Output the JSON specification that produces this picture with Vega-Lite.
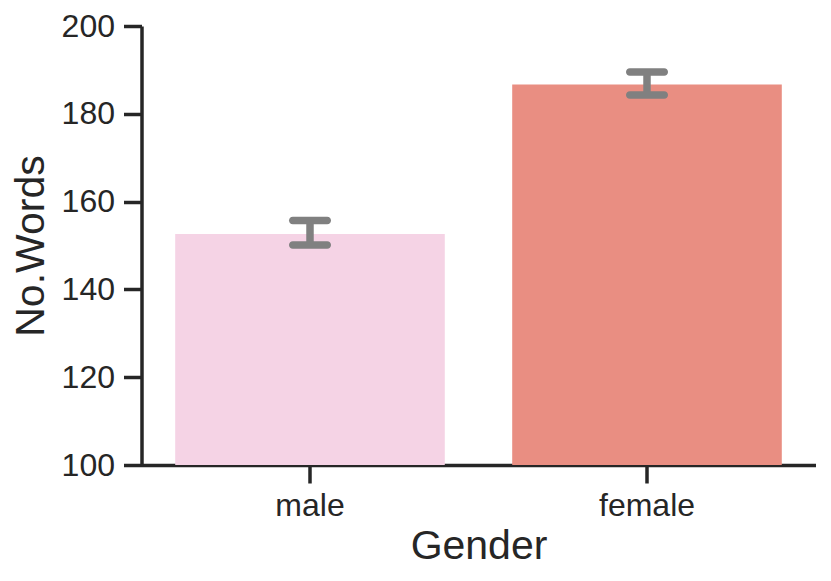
{
  "$schema": "https://vega.github.io/schema/vega-lite/v6.json",
  "autosize": {"type": "none"},
  "padding": {"left": 141.5, "top": 26, "right": 15.5, "bottom": 116},
  "width": 674,
  "height": 439,
  "background": "white",
  "data": {
    "values": [
      {"Gender": "male", "words": 152.6, "lo": 150.1, "hi": 155.7},
      {"Gender": "female", "words": 186.7, "lo": 184.3, "hi": 189.5}
    ]
  },
  "encoding": {
    "x": {
      "field": "Gender",
      "type": "nominal",
      "sort": ["male", "female"],
      "title": "Gender",
      "scale": {"paddingInner": 0.2, "paddingOuter": 0.1},
      "axis": {
        "labelAngle": 0,
        "tickSize": 18,
        "labelPadding": 7,
        "titleY": 93,
        "titleBaseline": "alphabetic"
      }
    }
  },
  "layer": [
    {
      "mark": {"type": "bar"},
      "encoding": {
        "y": {
          "field": "words",
          "type": "quantitative",
          "title": "No.Words",
          "scale": {"domain": [100, 200], "zero": false},
          "axis": {
            "values": [100, 120, 140, 160, 180, 200],
            "tickSize": 18,
            "labelPadding": 9,
            "titleAngle": -90,
            "titleX": -98.5,
            "titleY": 219.5,
            "titleAlign": "center",
            "titleBaseline": "alphabetic"
          }
        },
        "y2": {"datum": 100},
        "color": {
          "field": "Gender",
          "type": "nominal",
          "scale": {"domain": ["male", "female"], "range": ["#f5d3e5", "#e98e82"]},
          "legend": null
        }
      }
    },
    {
      "mark": {"type": "rule", "color": "#808080", "strokeWidth": 7.5},
      "encoding": {
        "y": {"field": "lo", "type": "quantitative"},
        "y2": {"field": "hi"}
      }
    },
    {
      "mark": {"type": "tick", "color": "#808080", "size": 42, "thickness": 7.5, "cornerRadius": 3.75, "opacity": 1},
      "encoding": {
        "y": {"field": "lo", "type": "quantitative"}
      }
    },
    {
      "mark": {"type": "tick", "color": "#808080", "size": 42, "thickness": 7.5, "cornerRadius": 3.75, "opacity": 1},
      "encoding": {
        "y": {"field": "hi", "type": "quantitative"}
      }
    }
  ],
  "config": {
    "view": {"stroke": null},
    "font": "Liberation Sans",
    "axis": {
      "grid": false,
      "domainColor": "#262626",
      "domainWidth": 3.5,
      "tickColor": "#262626",
      "tickWidth": 3.5,
      "labelFont": "Liberation Sans",
      "labelFontSize": 32,
      "labelColor": "#262626",
      "titleFont": "Liberation Sans",
      "titleFontSize": 41,
      "titleFontWeight": "normal",
      "titleColor": "#262626"
    }
  }
}
